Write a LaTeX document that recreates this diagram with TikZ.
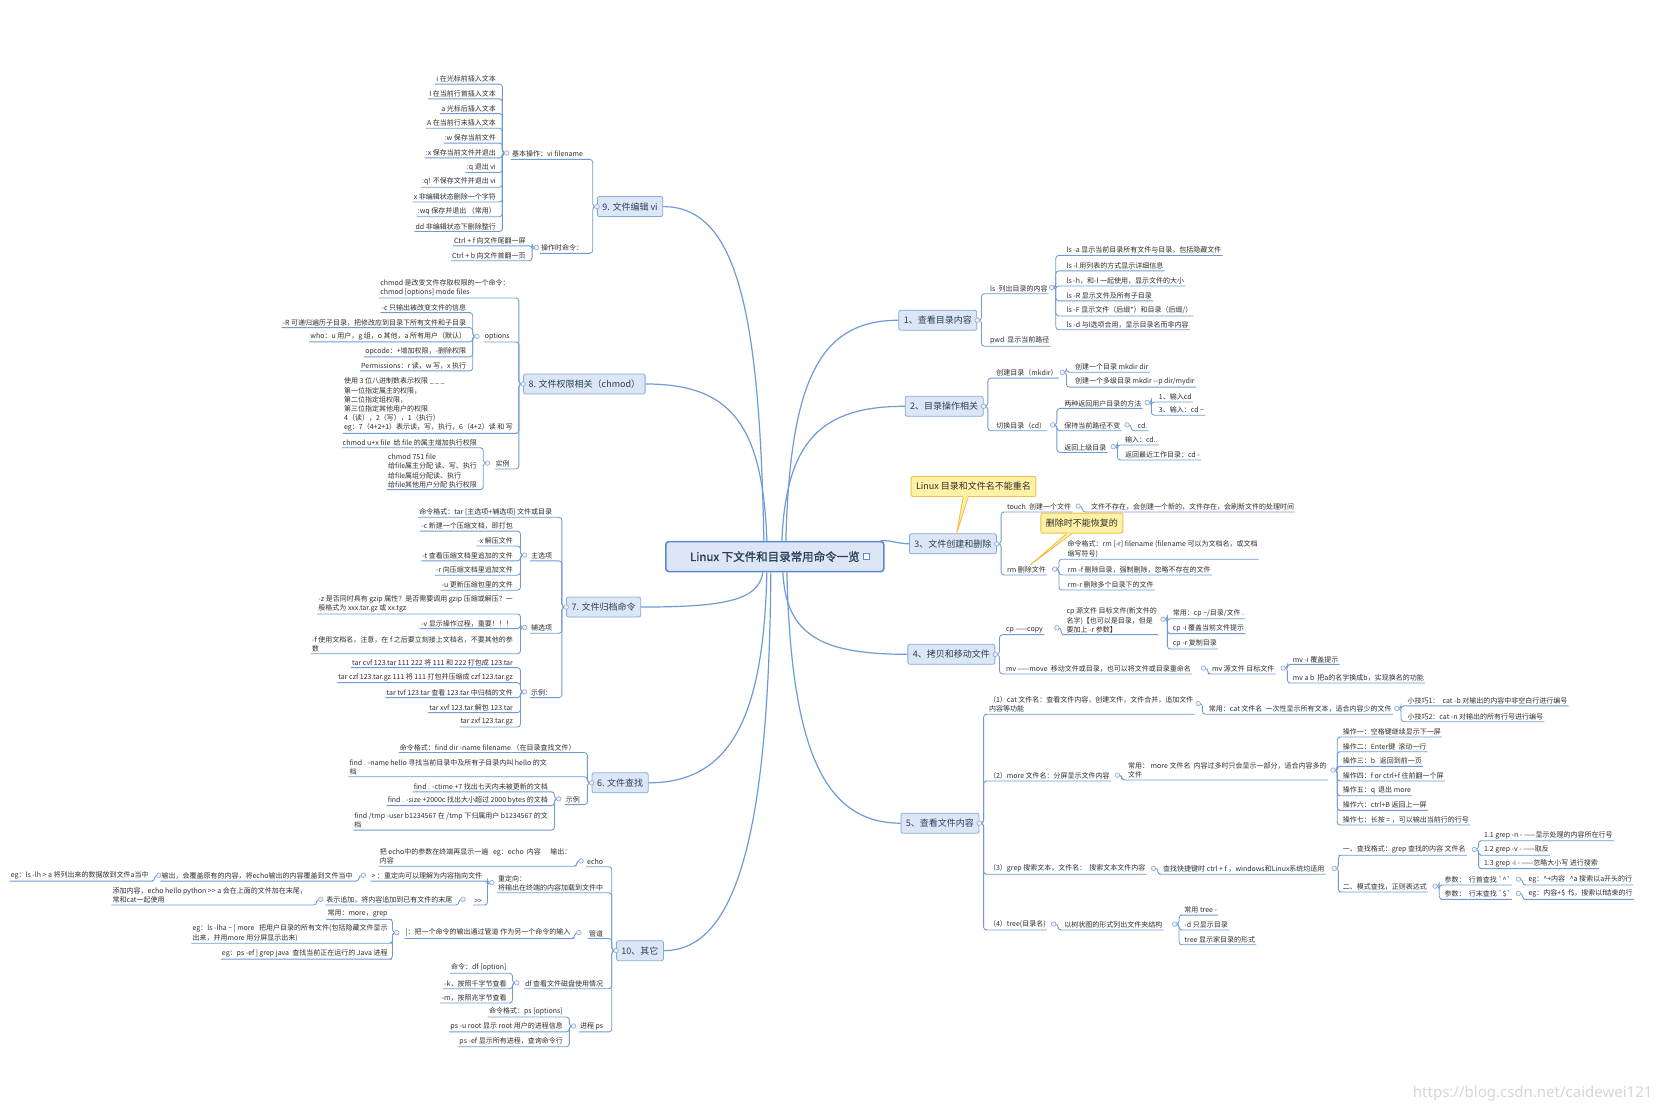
\documentclass[tikz,border=0pt]{standalone}
\usepackage{fontspec}
\setmainfont{Noto Sans CJK SC}
\newfontfamily\ctrfont[FakeBold=1.2]{Noto Sans CJK SC}
\newfontfamily\wmfont{Noto Sans}
\definecolor{lnc}{HTML}{6E9AD6}
\definecolor{brd}{HTML}{86AADD}
\definecolor{brf}{HTML}{DCE6F4}
\definecolor{ctrb}{HTML}{5B8AD0}
\definecolor{txt}{HTML}{2E2E2E}
\definecolor{boxt}{HTML}{2C3E5A}
\definecolor{dotc}{HTML}{8FA8CC}
\definecolor{dotf}{HTML}{EEF2F9}
\definecolor{ntf}{HTML}{FFF1A6}
\definecolor{ntb}{HTML}{F2BF4A}
\definecolor{wm}{HTML}{D6D6D6}
\newcommand\kidL[2]{\draw[conn] (#1) -- ++(-4,0) |- (#2.south east) -- (#2.south west);}
\newcommand\kidR[2]{\draw[conn] (#1) -- ++(4,0) |- (#2.south west) -- (#2.south east);}
\begin{document}
\begin{tikzpicture}[x=1.0622pt,y=-1.0622pt,
 lf/.style={font=\fontsize{7}{9.2}\selectfont, text=txt, inner xsep=1pt, inner ysep=1.6pt, align=left},
 lfL/.style={lf, anchor=south east},
 lfR/.style={lf, anchor=south west},
 br/.style={draw=brd, fill=brf, line width=0.8pt, rounded corners=2pt, text=boxt, font=\fontsize{9}{11}\selectfont, inner xsep=5pt, inner ysep=0pt, minimum height=20pt},
 ctrbox/.style={draw=ctrb, fill=brf, line width=1.6pt, rounded corners=3pt, text=boxt, font=\ctrfont\fontsize{11.5}{14}\selectfont, minimum width=218pt, minimum height=30pt, inner sep=0pt},
 notebox/.style={draw=ntb, fill=ntf, line width=0.9pt, rounded corners=2pt, text=txt, font=\fontsize{9}{11}\selectfont, minimum height=20pt, inner xsep=5pt, inner ysep=0pt},
 dot/.style={circle, draw=dotc, fill=dotf, line width=0.6pt, inner sep=0pt, minimum size=4.6pt},
 conn/.style={draw=lnc, line width=0.85pt, rounded corners=3pt},
 mainl/.style={draw=lnc, line width=1.2pt}]
\fill[white] (0,0) rectangle (1560,1042);
\useasboundingbox (0,0) rectangle (1560,1042);

% central
\node[ctrbox] (ctr) at (729.5,524) {Linux 下文件和目录常用命令一览\hspace{14pt}};
\draw[ctrb, line width=0.7pt, fill=white] ([xshift=-21pt,yshift=-3pt]ctr.east) rectangle ++(6pt,6pt);

% branch boxes
\node[br, anchor=west] (b9) at (562,194.5) {9. 文件编辑 vi};
\node[br, anchor=west] (b8) at (492.5,361.5) {8. 文件权限相关（chmod）};
\node[br, anchor=west] (b7) at (533,571.5) {7. 文件归档命令};
\node[br, anchor=west] (b6) at (557,737) {6. 文件查找};
\node[br, anchor=west] (b10) at (580,895) {10、其它};
\node[br, anchor=east] (b1) at (920,301.5) {1、查看目录内容};
\node[br, anchor=east] (b2) at (926,382.5) {2、目录操作相关};
\node[br, anchor=east] (b3) at (938.5,512) {3、文件创建和删除};
\node[br, anchor=east] (b4) at (937,616) {4、拷贝和移动文件};
\node[br, anchor=east] (b5) at (922,775) {5、查看文件内容};
\coordinate (cb9) at (b9.west);
\coordinate (cb8) at (b8.west);
\coordinate (cb7) at (b7.west);
\coordinate (cb6) at (b6.west);
\coordinate (cb10) at (b10.west);
\coordinate (cb1) at (b1.east);
\coordinate (cb2) at (b2.east);
\coordinate (cb3) at (b3.east);
\coordinate (cb4) at (b4.east);
\coordinate (cb5) at (b5.east);

% main curves
\draw[mainl] ([xshift=-11pt]ctr.north) .. controls +(-4,-215) and +(70,0) .. (b9.east);
\draw[mainl] ([xshift=-8pt]ctr.north) .. controls +(-4,-110) and +(80,0) .. (b8.east);
\draw[mainl] ([xshift=-12pt]ctr.south) .. controls +(-4,26) and +(80,0) .. (b7.east);
\draw[mainl] ([xshift=-8pt]ctr.south) .. controls +(-3,135) and +(78,0) .. (b6.east);
\draw[mainl] ([xshift=-4pt]ctr.south) .. controls +(-2,240) and +(70,0) .. (b10.east);
\draw[mainl] ([xshift=11pt]ctr.north) .. controls +(4,-150) and +(-75,0) .. (b1.west);
\draw[mainl] ([xshift=7pt]ctr.north) .. controls +(4,-95) and +(-78,0) .. (b2.west);
\draw[mainl] ([xshift=-4pt]ctr.north east) .. controls +(8,-1) and +(-10,0) .. (b3.west);
\draw[mainl] ([xshift=8pt]ctr.south) .. controls +(3,60) and +(-80,0) .. (b4.west);
\draw[mainl] ([xshift=12pt]ctr.south) .. controls +(4,160) and +(-75,0) .. (b5.west);

% ===== Section 9 =====
\node[lfL] (v0) at (550,150) {基本操作：vi filename};
\node[lfL] (v1) at (550,238.5) {操作时命令：};
\coordinate (cv0) at (477,144);
\coordinate (cv1) at (505,233);
\node[lfL] (va1) at (468,79.2) {i 在光标前插入文本};
\node[lfL] (va2) at (468,93.1) {I 在当前行首插入文本};
\node[lfL] (va3) at (468,107) {a 光标后插入文本};
\node[lfL] (va4) at (468,120.8) {A 在当前行末插入文本};
\node[lfL] (va5) at (468,134.7) {:w 保存当前文件};
\node[lfL] (va6) at (468,148.6) {:x 保存当前文件并退出};
\node[lfL] (va7) at (468,162.4) {:q 退出 vi};
\node[lfL] (va8) at (468,176.3) {:q! 不保存文件并退出 vi};
\node[lfL] (va9) at (468,190.2) {x 非编辑状态删除一个字符};
\node[lfL] (va10) at (468,204) {:wq 保存并退出 （常用）};
\node[lfL] (va11) at (468,217.9) {dd 非编辑状态下删除整行};
\node[lfL] (vb1) at (496,231.5) {Ctrl + f 向文件尾翻一屏};
\node[lfL] (vb2) at (496,245.5) {Ctrl + b 向文件首翻一页};
\foreach \k in {v0,v1} {\kidL{cb9}{\k}}
\foreach \k in {va1,va2,va3,va4,va5,va6,va7,va8,va9,va10,va11} {\kidL{cv0}{\k}}
\foreach \k in {vb1,vb2} {\kidL{cv1}{\k}}

% ===== Section 8 =====
\node[lfL] (h1) at (481,280.5) {chmod 是改变文件存取权限的一个命令：\\chmod [options] mode files};
\node[lfL] (h2) at (481,322) {options};
\node[lfL] (h3) at (484,408) {使用 3 位八进制数表示权限 \_ \_ \_\\第一位指定属主的权限，\\第二位指定组权限，\\第三位指定其他用户的权限\\4（读），2（写），1（执行）\\eg：7（4+2+1）表示读，写，执行，6（4+2）读 和 写};
\node[lfL] (h4) at (481,441.5) {实例};
\coordinate (ch2) at (449,316.6);
\coordinate (ch4) at (459,436);
\node[lfL] (ho1) at (440,294.3) {-c 只输出被改变文件的信息};
\node[lfL] (ho2) at (440,308.4) {-R 可递归遍历子目录，把修改应到目录下所有文件和子目录};
\node[lfL] (ho3) at (440,321.9) {who：u 用户，g 组，o 其他，a 所有用户（默认）};
\node[lfL] (ho4) at (440,336) {opcode：+增加权限，-删除权限};
\node[lfL] (ho5) at (440,349.2) {Permissions：r 读，w 写，x 执行};
\node[lfL] (hs1) at (450,421.5) {chmod u+x file\ \ 给 file 的属主增加执行权限};
\node[lfL] (hs2) at (450,461) {chmod 751 file\\给file属主分配 读、写、执行\\给file属组分配读、执行\\给file其他用户分配 执行权限};
\foreach \k in {h1,h2,h3,h4} {\kidL{cb8}{\k}}
\foreach \k in {ho1,ho2,ho3,ho4,ho5} {\kidL{ch2}{\k}}
\foreach \k in {hs1,hs2} {\kidL{ch4}{\k}}

% ===== Section 7 =====
\node[lfL] (t1) at (521,487) {命令格式：tar [主选项+辅选项] 文件或目录};
\node[lfL] (t2) at (521,528) {主选项};
\node[lfL] (t3) at (521,596.2) {辅选项};
\node[lfL] (t4) at (521,656.8) {示例：};
\coordinate (ct2) at (494,522.6);
\coordinate (ct3) at (494,590.7);
\coordinate (ct4) at (494,651.3);
\node[lfL] (tm1) at (484,500) {-c 新建一个压缩文档，即打包};
\node[lfL] (tm2) at (484,514) {-x 解压文件};
\node[lfL] (tm3) at (484,528) {-t 查看压缩文档里追加的文件};
\node[lfL] (tm4) at (484,541.5) {-r 向压缩文档里追加文件};
\node[lfL] (tm5) at (484,555.7) {-u 更新压缩包里的文件};
\node[lfL] (ta1) at (484,578) {-z 是否同时具有 gzip 属性？是否需要调用 gzip 压缩或解压？一\\般格式为 xxx.tar.gz 或 xx.tgz};
\node[lfL] (ta2) at (484,591.8) {-v 显示操作过程，重要！！！};
\node[lfL] (ta3) at (484,615.5) {-f 使用文档名，注意，在 f 之后要立刻接上文档名，不要其他的参\\数};
\node[lfL] (te1) at (484,628.5) {tar cvf 123.tar 111 222 将 111 和 222 打包成 123.tar};
\node[lfL] (te2) at (484,642.7) {tar czf 123.tar.gz 111 将 111 打包并压缩成 czf 123.tar.gz};
\node[lfL] (te3) at (484,656.8) {tar tvf 123.tar 查看 123.tar 中归档的文件};
\node[lfL] (te4) at (484,670.9) {tar xvf 123.tar 解包 123.tar};
\node[lfL] (te5) at (484,684.5) {tar zxf 123.tar.gz};
\foreach \k in {t1,t2,t3,t4} {\kidL{cb7}{\k}}
\foreach \k in {tm1,tm2,tm3,tm4,tm5} {\kidL{ct2}{\k}}
\foreach \k in {ta1,ta2,ta3} {\kidL{ct3}{\k}}
\foreach \k in {te1,te2,te3,te4,te5} {\kidL{ct4}{\k}}

% ===== Section 6 =====
\node[lfL] (f1) at (543,708.5) {命令格式：find dir -name filename （在目录查找文件）};
\node[lfL] (f2) at (516,731.3) {find . -name hello 寻找当前目录中及所有子目录内叫 hello 的文\\档};
\node[lfL] (f3) at (547,757.5) {示例};
\coordinate (cf3) at (526,752);
\node[lfL] (fe1) at (517,745.5) {find . -ctime +7 找出七天内未被更新的文档};
\node[lfL] (fe2) at (517,758.5) {find . -size +2000c 找出大小超过 2000 bytes 的文档};
\node[lfL] (fe3) at (517,781.5) {find /tmp -user b1234567 在 /tmp 下归属用户 b1234567 的文\\档};
\foreach \k in {f1,f2,f3} {\kidL{cb6}{\k}}
\foreach \k in {fe1,fe2,fe3} {\kidL{cf3}{\k}}

% ===== Section 10 =====
\node[lfL] (o1) at (569,816) {echo};
\node[lfL] (o2) at (569,840.5) {重定向：\\将输出在终端的内容加载到文件中};
\node[lfL] (o3) at (569,883.5) {管道};
\node[lfL] (o4) at (569,930.8) {df 查看文件磁盘使用情况};
\node[lfL] (o5) at (569,971.5) {进程 ps};
\coordinate (co1) at (547,810.5);
\coordinate (co2) at (463,831);
\coordinate (co3) at (545,878);
\coordinate (co4) at (486.5,925.3);
\coordinate (co5) at (540,966);
\node[lfL] (oe1) at (539,815.5) {把 echo中的参数在终端再显示一遍\ \ \ eg：echo\ \ 内容\ \ \ \ \ \ 输出：\\内容};
\node[lfL] (or1) at (455,829.5) {> ：重定向可以理解为内容指向文件};
\node[lfL] (or2) at (455,852) {>{}>};
\coordinate (cor1) at (342,824);
\coordinate (cor2) at (436,846.6);
\node[lfL] (or11) at (333,829.5) {输出，会覆盖原有的内容，将echo输出的内容覆盖到文件当中};
\coordinate (cor11) at (149.5,824);
\node[lfL] (or111) at (141,829.5) {eg：ls -lh > a 将列出来的数据放到文件a当中};
\node[lfL] (or21) at (427,852) {表示追加，将内容追加到已有文件的末尾};
\coordinate (cor21) at (302,846.6);
\node[lfL] (or211) at (290,852) {添加内容，echo hello python >{}> a 会在上面的文件加在末尾，\\常和cat一起使用};
\node[lfL] (op1) at (538,883.5) {|：把一个命令的输出通过管道 作为另一个命令的输入};
\coordinate (cop1) at (373.5,878);
\node[lfL] (op11) at (366,865.5) {常用：more，grep};
\node[lfL] (op12) at (366,888) {eg：ls -lha \textasciitilde{} | more\ \ \ 把用户目录的所有文件(包括隐藏文件显示\\出来，并用more 用分屏显示出来)};
\node[lfL] (op13) at (366,903) {eg：ps -ef | grep java\ \ 查找当前正在运行的 Java 进程};
\node[lfL] (od1) at (478,916.3) {命令：df [option]};
\node[lfL] (od2) at (478,930.8) {-k，按照千字节查看};
\node[lfL] (od3) at (478,944.3) {-m，按照兆字节查看};
\node[lfL] (os1) at (531,957.5) {命令格式：ps [options]};
\node[lfL] (os2) at (531,971.5) {ps -u root 显示 root 用户的进程信息};
\node[lfL] (os3) at (531,985.5) {ps -ef 显示所有进程，查询命令行};
\foreach \k in {o1,o2,o3,o4,o5} {\kidL{cb10}{\k}}
\kidL{co1}{oe1}
\foreach \k in {or1,or2} {\kidL{co2}{\k}}
\kidL{cor1}{or11}
\kidL{cor11}{or111}
\kidL{cor2}{or21}
\kidL{cor21}{or211}
\kidL{co3}{op1}
\foreach \k in {op11,op12,op13} {\kidL{cop1}{\k}}
\foreach \k in {od1,od2,od3} {\kidL{co4}{\k}}
\foreach \k in {os1,os2,os3} {\kidL{co5}{\k}}

% ===== Section 1 =====
\node[lfR] (r1) at (931,276.5) {ls\ \ 列出目录的内容};
\node[lfR] (r2) at (931,326) {pwd\ \ 显示当前路径};
\coordinate (cr1) at (990,270.5);
\node[lfR] (ra1) at (1003,240.5) {ls -a 显示当前目录所有文件与目录，包括隐藏文件};
\node[lfR] (ra2) at (1003,255) {ls -l 用列表的方式显示详细信息};
\node[lfR] (ra3) at (1003,269.2) {ls -h，和-l 一起使用，显示文件的大小};
\node[lfR] (ra4) at (1003,283.3) {ls -R 显示文件及所有子目录};
\node[lfR] (ra5) at (1003,297.5) {ls -F 显示文件（后缀*）和目录（后缀/）};
\node[lfR] (ra6) at (1003,310.5) {ls -d 与l选项合用，显示目录名而非内容};
\foreach \k in {r1,r2} {\kidR{cb1}{\k}}
\foreach \k in {ra1,ra2,ra3,ra4,ra5,ra6} {\kidR{cr1}{\k}}

% ===== Section 2 =====
\node[lfR] (d1) at (937,356) {创建目录（mkdir）};
\node[lfR] (d2) at (937,405.5) {切换目录（cd）};
\coordinate (cd1) at (1000,350.5);
\coordinate (cd2) at (991,400);
\node[lfR] (dm1) at (1011,350.5) {创建一个目录 mkdir dir};
\node[lfR] (dm2) at (1011,364.5) {创建一个多级目录 mkdir -{}-p dir/mydir};
\node[lfR] (dc1) at (1001,384.5) {两种返回用户目录的方法};
\node[lfR] (dc2) at (1001,405.5) {保持当前路径不变};
\node[lfR] (dc3) at (1001,426) {返回上级目录};
\coordinate (cdc1) at (1080,379);
\coordinate (cdc2) at (1061,400);
\coordinate (cdc3) at (1048,420.5);
\node[lfR] (dc11) at (1090,378.5) {1、输入cd};
\node[lfR] (dc12) at (1090,391) {3、输入：cd \textasciitilde};
\node[lfR] (dc21) at (1070,405.5) {cd.};
\node[lfR] (dc31) at (1058,419) {输入：cd..};
\node[lfR] (dc32) at (1058,433) {返回最近工作目录：cd -};
\foreach \k in {d1,d2} {\kidR{cb2}{\k}}
\foreach \k in {dm1,dm2} {\kidR{cd1}{\k}}
\foreach \k in {dc1,dc2,dc3} {\kidR{cd2}{\k}}
\foreach \k in {dc11,dc12} {\kidR{cdc1}{\k}}
\kidR{cdc2}{dc21}
\foreach \k in {dc31,dc32} {\kidR{cdc3}{\k}}

% ===== Section 3 =====
\node[lfR] (e1) at (947,482) {touch\ \ 创建一个文件};
\node[lfR] (e2) at (947,541.3) {rm 删除文件};
\coordinate (ce1) at (1015,476.5);
\coordinate (ce2) at (993,535.8);
\node[lfR] (e11) at (1026,482) {文件不存在，会创建一个新的，文件存在，会刷新文件的处理时间};
\node[lfR] (e21) at (1004,526.5) {命令格式：rm [-r] filename (filename 可以为文档名，或文档\\缩写符号)};
\node[lfR] (e22) at (1004,541.3) {rm -f 删除目录，强制删除，忽略不存在的文件};
\node[lfR] (e23) at (1004,555.5) {rm-r 删除多个目录下的文件};
\foreach \k in {e1,e2} {\kidR{cb3}{\k}}
\kidR{ce1}{e11}
\foreach \k in {e21,e22,e23} {\kidR{ce2}{\k}}

% ===== Section 4 =====
\node[lfR] (g1) at (946,597.5) {cp ——copy};
\node[lfR] (g2) at (946,634.5) {mv ——move\ \ 移动文件或目录，也可以将文件或目录重命名};
\coordinate (cg1) at (995,591);
\coordinate (cg2) at (1133,629);
\node[lfR] (g11) at (1003,597.5) {cp 源文件 目标文件(新文件的\\名字)【也可以是目录，但是\\要加上 -r 参数】};
\coordinate (cg11) at (1095,583);
\node[lfR] (g111) at (1103,582.5) {常用：cp \textasciitilde/目录/文件 .};
\node[lfR] (g112) at (1103,596.5) {cp -i 覆盖当前文件提示};
\node[lfR] (g113) at (1103,611) {cp -r 复制目录};
\node[lfR] (g21) at (1140,634.5) {mv 源文件 目标文件};
\coordinate (cg21) at (1208,629);
\node[lfR] (g211) at (1216,625.5) {mv -i 覆盖提示};
\node[lfR] (g212) at (1216,643) {mv a b\ \ 把a的名字换成b，实现换名的功能};
\foreach \k in {g1,g2} {\kidR{cb4}{\k}}
\kidR{cg1}{g11}
\foreach \k in {g111,g112,g113} {\kidR{cg11}{\k}}
\kidR{cg2}{g21}
\foreach \k in {g211,g212} {\kidR{cg21}{\k}}

% ===== Section 5 =====
\node[lfR] (k1) at (930,672.5) {（1）cat 文件名：查看文件内容，创建文件，文件合并，追加文件\\内容等功能};
\node[lfR] (k2) at (930,735.3) {（2）more 文件名：分屏显示文件内容};
\node[lfR] (k3) at (930,823) {（3）grep 搜索文本，文件名：\ \ 搜索文本文件内容};
\node[lfR] (k4) at (930,875.5) {（4）tree(目录名)};
\coordinate (ck1) at (1128,662.3);
\coordinate (ck2) at (1052,729.8);
\coordinate (ck3) at (1086,817.5);
\coordinate (ck4) at (992,870);
\node[lfR] (k11) at (1137,672.5) {常用：cat 文件名\ \ 一次性显示所有文本，适合内容少的文件};
\coordinate (ck11) at (1315,667);
\node[lfR] (k111) at (1324,664.5) {小技巧1：\ \ cat -b 对输出的内容中非空白行进行编号};
\node[lfR] (k112) at (1324,679.5) {小技巧2：cat -n 对输出的所有行号进行编号};
\node[lfR] (k21) at (1061,734.3) {常用： more 文件名\ \ 内容过多时只会显示一部分，适合内容多的\\文件};
\coordinate (ck21) at (1255,725);
\node[lfR] (k211) at (1263,693.9) {操作一：空格键继续显示下一屏};
\node[lfR] (k212) at (1263,707.7) {操作二：Enter键\ \ 滚动一行};
\node[lfR] (k213) at (1263,721.5) {操作三：b\ \ \ 返回到前一页};
\node[lfR] (k214) at (1263,735.3) {操作四：f or ctrl+f 往前翻一个屏};
\node[lfR] (k215) at (1263,749.1) {操作五：q\ \ 退出 more};
\node[lfR] (k216) at (1263,762.9) {操作六：ctrl+B 返回上一屏};
\node[lfR] (k217) at (1263,776.7) {操作七：长按 = ，可以输出当前行的行号};
\node[lfR] (k31) at (1094,823) {查找快捷键时 ctrl + f ，windows和Linux系统均适用};
\coordinate (ck31) at (1256,817.5);
\node[lfR] (k311) at (1263,805.2) {一、查找格式：grep 查找的内容 文件名};
\node[lfR] (k312) at (1263,839.8) {二、模式查找，正则表达式};
\coordinate (ck311) at (1388,799.7);
\coordinate (ck312) at (1351,834.3);
\node[lfR] (k3111) at (1396,791.5) {1.1 grep -n - ——显示处理的内容所在行号};
\node[lfR] (k3112) at (1396,805.2) {1.2 grep -v - ——取反};
\node[lfR] (k3113) at (1396,817.8) {1.3 grep -i - ——忽略大小写 进行搜索};
\node[lfR] (k3121) at (1359,833.2) {参数：\ \ 行首查找 \textasciigrave\textasciicircum\textasciigrave};
\node[lfR] (k3122) at (1359,846.7) {参数：\ \ 行末查找 \textasciigrave\$\textasciigrave};
\coordinate (ck3121) at (1429.5,827.7);
\coordinate (ck3122) at (1429.5,841.2);
\node[lfR] (k31211) at (1438,833.2) {eg：\textasciicircum+内容\ \ \ \textasciicircum a 搜索以a开头的行};
\node[lfR] (k31221) at (1438,846.7) {eg：内容+\$\ \ f\$，搜索以f结束的行};
\node[lfR] (k41) at (1001,875.5) {以树状图的形式列出文件夹结构};
\coordinate (ck41) at (1106,870);
\node[lfR] (k411) at (1114,861.5) {常用 tree -};
\node[lfR] (k412) at (1114,875.5) {-d 只显示目录};
\node[lfR] (k413) at (1114,889.5) {tree 显示家目录的形式};
\foreach \k in {k1,k2,k3,k4} {\kidR{cb5}{\k}}
\kidR{ck1}{k11}
\foreach \k in {k111,k112} {\kidR{ck11}{\k}}
\kidR{ck2}{k21}
\foreach \k in {k211,k212,k213,k214,k215,k216,k217} {\kidR{ck21}{\k}}
\kidR{ck3}{k31}
\foreach \k in {k311,k312} {\kidR{ck31}{\k}}
\foreach \k in {k3111,k3112,k3113} {\kidR{ck311}{\k}}
\foreach \k in {k3121,k3122} {\kidR{ck312}{\k}}
\kidR{ck3121}{k31211}
\kidR{ck3122}{k31221}
\kidR{ck4}{k41}
\foreach \k in {k411,k412,k413} {\kidR{ck41}{\k}}

% ===== notes =====
\node[notebox] (n1) at (916.5,458) {Linux 目录和文件名不能重名};
\node[notebox] (n2) at (1018.5,492.5) {删除时不能恢复的};
\fill[ntf] ([xshift=-10.3pt,yshift=0.9pt]n1.south) -- ([xshift=3.7pt]b3.north) -- ([xshift=-5.3pt,yshift=0.9pt]n1.south) -- cycle;
\draw[ntb, line width=0.9pt] ([xshift=-10.3pt]n1.south) -- ([xshift=3.7pt]b3.north) -- ([xshift=-5.3pt]n1.south);
\fill[ntf] ([xshift=-15pt,yshift=0.9pt]n2.south) -- ([xshift=4pt]e2.north) -- ([xshift=-10pt,yshift=0.9pt]n2.south) -- cycle;
\draw[ntb, line width=0.9pt] ([xshift=-15pt]n2.south) -- ([xshift=4pt]e2.north) -- ([xshift=-10pt]n2.south);

% ===== circles =====
\foreach \c in {cb9,cb8,cb7,cb6,cb10,cb1,cb2,cb3,cb4,cb5,cv0,cv1,ch2,ch4,ct2,ct3,ct4,cf3,co1,co2,co3,co4,co5,cor1,cor2,cor11,cor21,cop1,cr1,cd1,cd2,cdc1,cdc2,cdc3,ce1,ce2,cg1,cg2,cg11,cg21,ck1,ck2,ck3,ck4,ck11,ck21,ck31,ck311,ck312,ck3121,ck3122,ck41} {\node[dot] (d\c) at (\c) {};}

% watermark
\node[font=\wmfont\fontsize{15}{18}\selectfont, text=wm, anchor=east] (wmk) at (1559,1030) {https://blog.csdn.net/caidewei121};
\end{tikzpicture}
\end{document}
